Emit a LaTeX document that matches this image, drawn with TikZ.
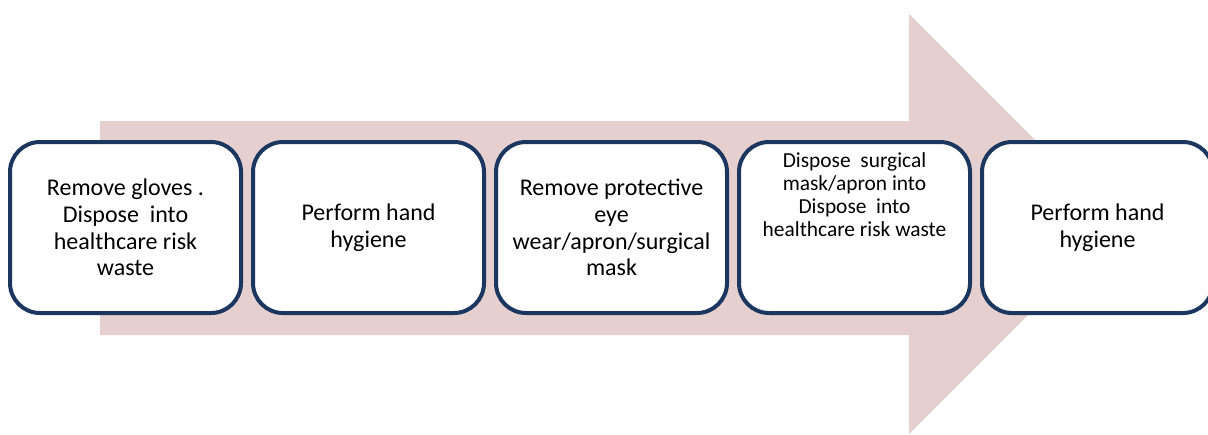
\documentclass[tikz,border=0pt]{standalone}
\usepackage{fontspec}
\setmainfont{Carlito}
\usetikzlibrary{positioning}
\definecolor{stepline}{RGB}{27,55,95}
\definecolor{arrowfill}{RGB}{230,207,207}
\tikzset{
  stepbox/.style={draw=stepline, line width=2pt, fill=white, rounded corners=15pt,
    minimum width=115.5pt, minimum height=85.5pt, align=center, inner sep=2pt,
    font=\fontsize{12}{13.3}\selectfont},
  steptext/.style={align=center, inner sep=0pt, font=\fontsize{10.7}{11.6}\selectfont}
}
\begin{document}
\begin{tikzpicture}[x=0.5pt,y=-0.5pt]
  \useasboundingbox (0,0) rectangle (1208,434);
  \fill[arrowfill] (100,121) -- (909,121) -- (909,14) -- (1119,224) -- (909,434) -- (909,335) -- (100,335) -- cycle;
  \node[stepbox] (gloves) at (125.5,227.5) {Remove gloves .\\Dispose\ \ into\\healthcare risk\\waste};
  \node[stepbox, right=4pt of gloves] (hygiene) {Perform hand\\hygiene};
  \node[stepbox, right=4pt of hygiene] (eyewear) {Remove protective\\eye\\wear/apron/surgical\\mask};
  \node[stepbox, right=4pt of eyewear] (dispose) {};
  \node[steptext, anchor=north] (disposetext) at ([yshift=-6pt]dispose.north) {Dispose\ \ surgical\\mask/apron into\\Dispose\ \ into\\healthcare risk waste};
  \node[stepbox, right=4pt of dispose] (hygienetwo) {Perform hand\\hygiene};
\end{tikzpicture}
\end{document}
